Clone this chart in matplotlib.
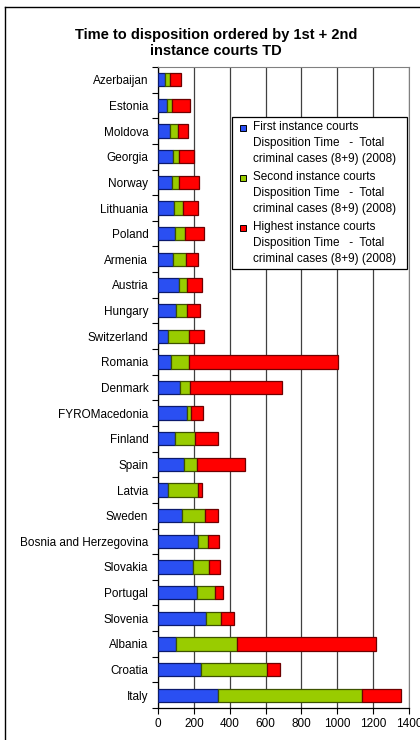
import numpy as np
from matplotlib import pyplot as plt
from matplotlib.lines import Line2D
from matplotlib.patches import Rectangle

####################################
### Data (days)
####################################

countries = ["Azerbaijan", "Estonia", "Moldova", "Georgia", "Norway", "Lithuania",
             "Poland", "Armenia", "Austria", "Hungary", "Switzerland", "Romania",
             "Denmark", "FYROMacedonia", "Finland", "Spain", "Latvia", "Sweden",
             "Bosnia and Herzegovina", "Slovakia", "Portugal", "Slovenia",
             "Albania", "Croatia", "Italy"]

first_instance = [41, 50, 68, 81, 77, 90, 97, 84, 118, 103, 56, 75,
                  125, 164, 97, 146, 56, 136, 224, 196, 215, 265, 103, 241, 336]
second_instance = [24, 28, 44, 37, 41, 48, 54, 73, 44, 59, 117, 99,
                   56, 22, 111, 69, 168, 127, 56, 90, 104, 86, 339, 369, 804]
highest_instance = [66, 101, 56, 82, 108, 83, 103, 64, 84, 70, 85, 828,
                    509, 66, 125, 268, 19, 73, 62, 61, 41, 75, 775, 73, 215]

legend_labels = ["First instance courts\nDisposition Time   -  Total\ncriminal cases (8+9) (2008)",
                 "Second instance courts\nDisposition Time   -  Total\ncriminal cases (8+9) (2008)",
                 "Highest instance courts\nDisposition Time   -  Total\ncriminal cases (8+9) (2008)"]

title = "Time to disposition ordered by 1st + 2nd\ninstance courts TD"

colors = ["#2a4ff2", "#99cc00", "#ff0000"]
edges = ["#0b1a6e", "#3d5200", "#6e0000"]

W, H = 420, 740   # figure size in pixels, used to place things in figure fractions

####################################
### Figure setup
####################################

plt.rcdefaults()
plt.rcParams["font.family"] = ["Liberation Sans", "DejaVu Sans"]

fig = plt.figure(figsize=(W / 100, H / 100), dpi=100)
ax = fig.add_axes([158 / W, 1 - 708 / H, (409 - 158) / W, (708 - 67) / H])

######################
### Stacked horizontal bars
#####################

y = np.arange(len(countries))
left = np.zeros(len(countries))
series = [first_instance, second_instance, highest_instance]
for vals, c, e in zip(series, colors, edges):
    vals = np.array(vals, dtype=float)
    ax.barh(y, vals, left=left, height=0.52, color=c, edgecolor=e, linewidth=0.9, zorder=3)
    left = left + vals

######################
### Axes style
#####################

ax.set_xlim(0, 1400)
ax.set_ylim(len(countries) - 0.5, -0.5)
ax.set_xticks(np.arange(0, 1401, 200))
ax.tick_params(axis="x", labelsize=8.5, length=4, width=0.8, direction="out", pad=3)

ax.set_yticks(y)
ax.set_yticklabels(countries, fontsize=8.5)
ax.tick_params(axis="y", which="major", length=0, pad=7)
ax.set_yticks(np.arange(-0.5, len(countries), 1), minor=True)
ax.tick_params(axis="y", which="minor", length=4, width=0.8, direction="out")

ax.grid(axis="x", color="#404040", linewidth=0.9, zorder=0)
ax.spines["top"].set_color("#808080")
ax.spines["right"].set_color("#808080")
ax.spines["left"].set_linewidth(0.9)
ax.spines["bottom"].set_linewidth(0.9)

######################
### Legend (drawn by hand so the square sits by the first line)
#####################

fig.add_artist(Rectangle((232 / W, 1 - 269 / H), (407 - 232) / W, (269 - 117) / H,
                         transform=fig.transFigure, facecolor="white",
                         edgecolor="black", linewidth=0.9, zorder=5))
for i, (lab, c) in enumerate(zip(legend_labels, colors)):
    y_line = 128 + 50 * i
    fig.add_artist(Line2D([243 / W], [1 - y_line / H], marker="s", markersize=5,
                          markerfacecolor=c, markeredgecolor="black",
                          markeredgewidth=0.7, linestyle="none",
                          transform=fig.transFigure, zorder=6))
    fig.text(253 / W, 1 - (y_line - 7) / H, lab, ha="left", va="top",
             fontsize=8.5, linespacing=1.45, zorder=6)

######################
### Title and outer frame
#####################

fig.text(0.515, 1 - 43 / H, title, ha="center", va="center",
         fontsize=10.5, fontweight="bold", linespacing=1.2)

fig.add_artist(Line2D([5 / W, 5 / W], [0, 1 - 7 / H], color="black",
                      linewidth=1, transform=fig.transFigure))
fig.add_artist(Line2D([5 / W, 1], [1 - 7 / H, 1 - 7 / H], color="black",
                      linewidth=1, transform=fig.transFigure))

plt.savefig("out.png", dpi=100)
